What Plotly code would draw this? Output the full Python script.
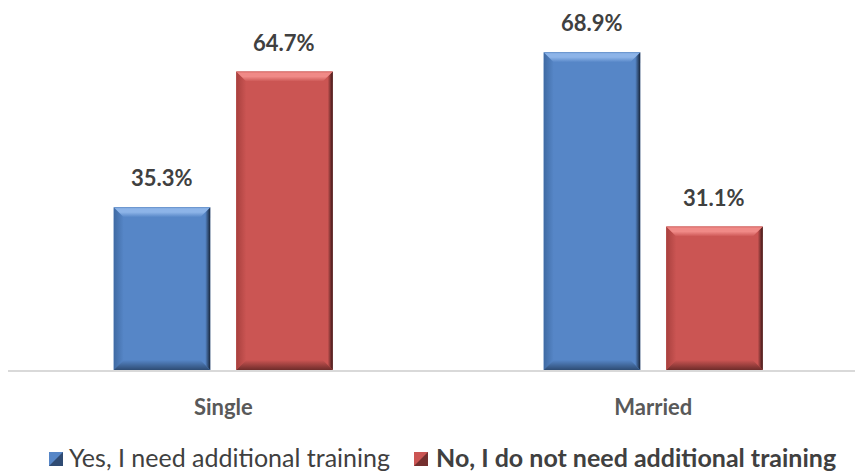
import plotly.graph_objects as go

# ---- data ----
categories = ["Single", "Married"]
series_names = ["Yes, I need additional training", "No, I do not need additional training"]
yes_values = [35.3, 68.9]
no_values = [64.7, 31.1]

# ---- geometry / style ----
W, H = 855, 472
M_L, M_R, M_T, M_B = 8, 0, 1, 102
Y_MAX = 80
X_RANGE = [-0.5007, 1.4691]
BAR_W = 0.2244
OFFSETS = [-0.2548, 0.0301]
FONT = "Lato"
MAIN = ["#5686C7", "#CB5553"]
LIGHT = ["#8DB4E8", "#F08A87"]
EDGE_TOP = ["#5E8CC8", "#D46562"]
DARK = ["#17253A", "#3A1615"]
BOTTOM_DARK = ["#2E4C74", "#6E2C2A"]
LEFT_DARK = ["#3F6AA3", "#A8403E"]

plot_w = W - M_L - M_R
plot_h = H - M_T - M_B
px_per_x = plot_w / (X_RANGE[1] - X_RANGE[0])
px_per_y = plot_h / Y_MAX
BEVEL = 10  # px
dx = BEVEL / px_per_x
dy = BEVEL / px_per_y

fig = go.Figure()
xs = list(range(len(categories)))

for si, vals in enumerate([yes_values, no_values]):
    fig.add_trace(go.Bar(
        x=xs, y=vals, name=series_names[si],
        width=[BAR_W] * len(xs), offset=[OFFSETS[si]] * len(xs),
        marker=dict(color=MAIN[si], line=dict(width=0)),
        showlegend=False, hoverinfo="skip",
    ))


def bevel_piece(px, py, gtype, start, stop, scale):
    fig.add_trace(go.Scatter(
        x=px + [px[0]], y=py + [py[0]], mode="lines", line=dict(width=0),
        fill="toself",
        fillgradient=dict(type=gtype, start=start, stop=stop, colorscale=scale),
        hoverinfo="skip", showlegend=False,
    ))


# bevelled edges for every bar, derived from its value
for si, vals in enumerate([yes_values, no_values]):
    for ci, v in enumerate(vals):
        x0 = ci + OFFSETS[si]
        x1 = x0 + BAR_W
        y0, y1 = 0, v
        # left
        bevel_piece([x0, x0 + dx, x0 + dx, x0], [y0, y0 + dy, y1 - dy, y1],
                    "horizontal", x0, x0 + dx,
                    [[0, LEFT_DARK[si]], [1, MAIN[si]]])
        # right
        bevel_piece([x1, x1 - dx, x1 - dx, x1], [y0, y0 + dy, y1 - dy, y1],
                    "horizontal", x1 - dx, x1,
                    [[0, MAIN[si]], [0.5, MAIN[si]], [1, DARK[si]]])
        # top
        bevel_piece([x0, x1, x1 - dx, x0 + dx], [y1, y1, y1 - dy, y1 - dy],
                    "vertical", y1 - dy, y1,
                    [[0, MAIN[si]], [0.5, LIGHT[si]], [0.85, LIGHT[si]], [1, EDGE_TOP[si]]])
        # bottom
        bevel_piece([x0, x1, x1 - dx, x0 + dx], [y0, y0, y0 + dy, y0 + dy],
                    "vertical", y0, y0 + dy,
                    [[0, BOTTOM_DARK[si]], [1, MAIN[si]]])

# value labels above the bars
annotations = []
for si, vals in enumerate([yes_values, no_values]):
    for ci, v in enumerate(vals):
        annotations.append(dict(
            x=ci + OFFSETS[si] + BAR_W / 2, y=v, xref="x", yref="y",
            text=f"{v:.1f}%", showarrow=False, yanchor="bottom", yshift=14,
            font=dict(family=FONT, size=22, color="#404040", weight="bold"),
        ))


def paper_x(p):
    return (p - M_L) / plot_w


def paper_y(p):
    return (H - M_B - p) / plot_h


# legend drawn as swatches plus text
LEG_Y = 457
SW = 14
legend_items = [(49, 67, "normal", 25), (414, 434, "bold", 25)]
shapes = []
for si, (sx, tx, wt, fs) in enumerate(legend_items):
    sy = LEG_Y + 2
    shapes.append(dict(type="rect", xref="paper", yref="paper",
                       x0=paper_x(sx), x1=paper_x(sx + SW),
                       y0=paper_y(sy + SW / 2), y1=paper_y(sy - SW / 2),
                       fillcolor=MAIN[si], line=dict(width=0)))
    # shaded lower half of the swatch
    shapes.append(dict(type="path", xref="paper", yref="paper",
                       path=(f"M{paper_x(sx)},{paper_y(sy + SW / 2)} "
                             f"L{paper_x(sx + SW)},{paper_y(sy + SW / 2)} "
                             f"L{paper_x(sx + SW)},{paper_y(sy - SW / 2)} "
                             f"L{paper_x(sx + SW / 2)},{paper_y(sy)} Z"),
                       fillcolor=DARK[si], opacity=0.6, line=dict(width=0)))
    annotations.append(dict(
        x=paper_x(tx), y=paper_y(LEG_Y), xref="paper", yref="paper",
        text=series_names[si], showarrow=False, xanchor="left", yanchor="middle",
        font=dict(family=FONT, size=fs, color="#404040", weight=wt),
    ))

fig.update_layout(
    width=W, height=H,
    margin=dict(l=M_L, r=M_R, t=M_T, b=M_B),
    paper_bgcolor="white", plot_bgcolor="white",
    barmode="overlay",
    showlegend=False,
    xaxis=dict(range=X_RANGE, tickvals=xs, ticktext=categories,
               showgrid=False, zeroline=False, showline=True,
               linecolor="#D9D9D9", linewidth=1.5, ticks="",
               ticklabelstandoff=17,
               tickfont=dict(family=FONT, size=22, color="#595959", weight="bold")),
    yaxis=dict(range=[0, Y_MAX], visible=False, showgrid=False),
    annotations=annotations,
    shapes=shapes,
)

fig.write_html("out.html")
